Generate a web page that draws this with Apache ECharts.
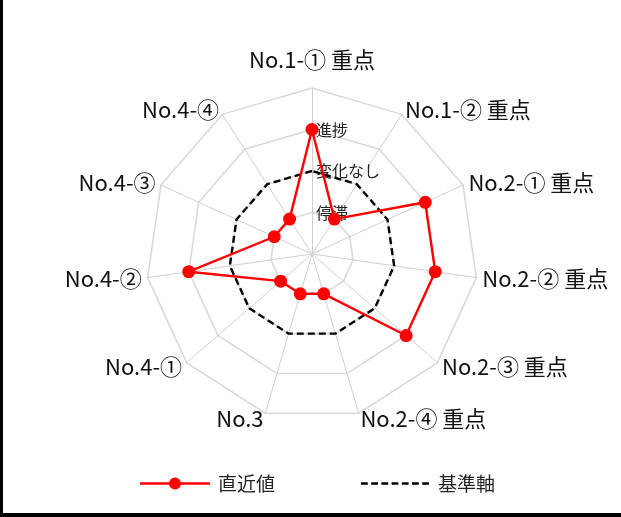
<!DOCTYPE html>
<html>
<head>
<meta charset="utf-8">
<script src="https://cdn.jsdelivr.net/npm/echarts@6/dist/echarts.min.js"></script>
<style>
  html, body { margin: 0; padding: 0; background: #fff; }
  #wrap { position: relative; width: 621px; height: 517px; }
  #chart { position: absolute; left: 0; top: 0; width: 621px; height: 517px; }
  #frame { position: absolute; left: 0; top: 0; width: 621px; height: 517px;
           box-sizing: border-box; border-left: 3px solid #000; border-bottom: 4px solid #000;
           pointer-events: none; }
</style>
</head>
<body>
<div id="wrap">
  <div id="chart"></div>
  <div id="frame"></div>
</div>
<script>
// Radar axes, listed clockwise from the top
const indicators = [
  'No.1-① 重点', 'No.1-② 重点', 'No.2-① 重点', 'No.2-② 重点', 'No.2-③ 重点',
  'No.2-④ 重点', 'No.3', 'No.4-①', 'No.4-②', 'No.4-③', 'No.4-④'
];
// Scale steps: 1 = 停滞, 2 = 変化なし, 3 = 進捗
const levelLabels = ['', '停滞', '変化なし', '進捗', ''];
const latestValues = [3, 1, 3, 3, 3, 1, 1, 1, 3, 1, 1];
const baselineValues = [2, 2, 2, 2, 2, 2, 2, 2, 2, 2, 2];
const seriesNames = ['直近値', '基準軸'];

const FONT = '"Noto Sans CJK JP", "Noto Sans", sans-serif';

// ECharts lays radar axes out counter-clockwise, so feed them in reverse
// (keeping the first one on top) to read clockwise.
const n = indicators.length;
const order = indicators.map(function (_, k) { return (n - k) % n; });
const reorder = function (arr) { return order.map(function (i) { return arr[i]; }); };

// Legend icons: a line with a dot, and a dashed line
const dotLineIcon = 'path://M0,0M0,14M0,5.8H70V8.2H0Z M41,7A6,6 0 1 1 29,7A6,6 0 1 1 41,7Z';
let dashParts = 'path://M0,0M0,14';
for (let i = 0; i < 7; i++) {
  const x0 = i * 10.2;
  dashParts += 'M' + x0 + ',5.8H' + (x0 + 6.8) + 'V8.2H' + x0 + 'Z';
}
const dashIcon = dashParts;

const chart = echarts.init(document.getElementById('chart'), null, { renderer: 'canvas' });

const indicatorList = reorder(indicators).map(function (name, k) {
  const item = { name: name, min: 0, max: 4 };
  if (k === 0) {
    item.axisLabel = {
      show: true,
      fontFamily: FONT,
      fontSize: 16,
      color: '#222',
      align: 'left',
      margin: -4,
      formatter: function (v) { return levelLabels[Math.round(v)] || ''; }
    };
  }
  return item;
});
const topName = indicators[0];

chart.setOption({
  animation: false,
  backgroundColor: '#fff',
  textStyle: { fontFamily: FONT },
  legend: {
    bottom: 19,
    left: 135,
    itemWidth: 70,
    itemHeight: 14,
    itemGap: 86,
    textStyle: { fontFamily: FONT, fontSize: 19, color: '#222', padding: [0, 0, 0, 3] },
    data: [
      { name: seriesNames[0], icon: dotLineIcon, itemStyle: { color: '#ff0000' } },
      { name: seriesNames[1], icon: dashIcon, itemStyle: { color: '#000' } }
    ]
  },
  radar: {
    center: [312, 254],
    radius: 166,
    startAngle: 90,
    shape: 'polygon',
    splitNumber: 4,
    indicator: indicatorList,
    axisName: {
      color: '#111',
      fontFamily: FONT,
      fontSize: 22,
      formatter: function (name) {
        return name === topName ? '{t|' + name + '}' : name;
      },
      rich: {
        t: { fontFamily: FONT, fontSize: 22, color: '#111', padding: [0, 0, 11, 0] }
      }
    },
    nameGap: 6,
    splitLine: { lineStyle: { color: '#d9d9d9', width: 1.6 } },
    splitArea: { show: false },
    axisLine: { lineStyle: { color: '#d0d0d0', width: 1 } },
    axisTick: { show: false },
    axisLabel: { show: false }
  },
  series: [{
    type: 'radar',
    data: [
      {
        name: seriesNames[1],
        value: reorder(baselineValues),
        symbol: 'none',
        itemStyle: { color: '#000' },
        lineStyle: { color: '#000', width: 2.4, type: [7, 4] }
      },
      {
        name: seriesNames[0],
        value: reorder(latestValues),
        symbol: 'circle',
        symbolSize: 13,
        itemStyle: { color: '#ff0000' },
        lineStyle: { color: '#ff0000', width: 2.4 }
      }
    ]
  }]
});
</script>
</body>
</html>
